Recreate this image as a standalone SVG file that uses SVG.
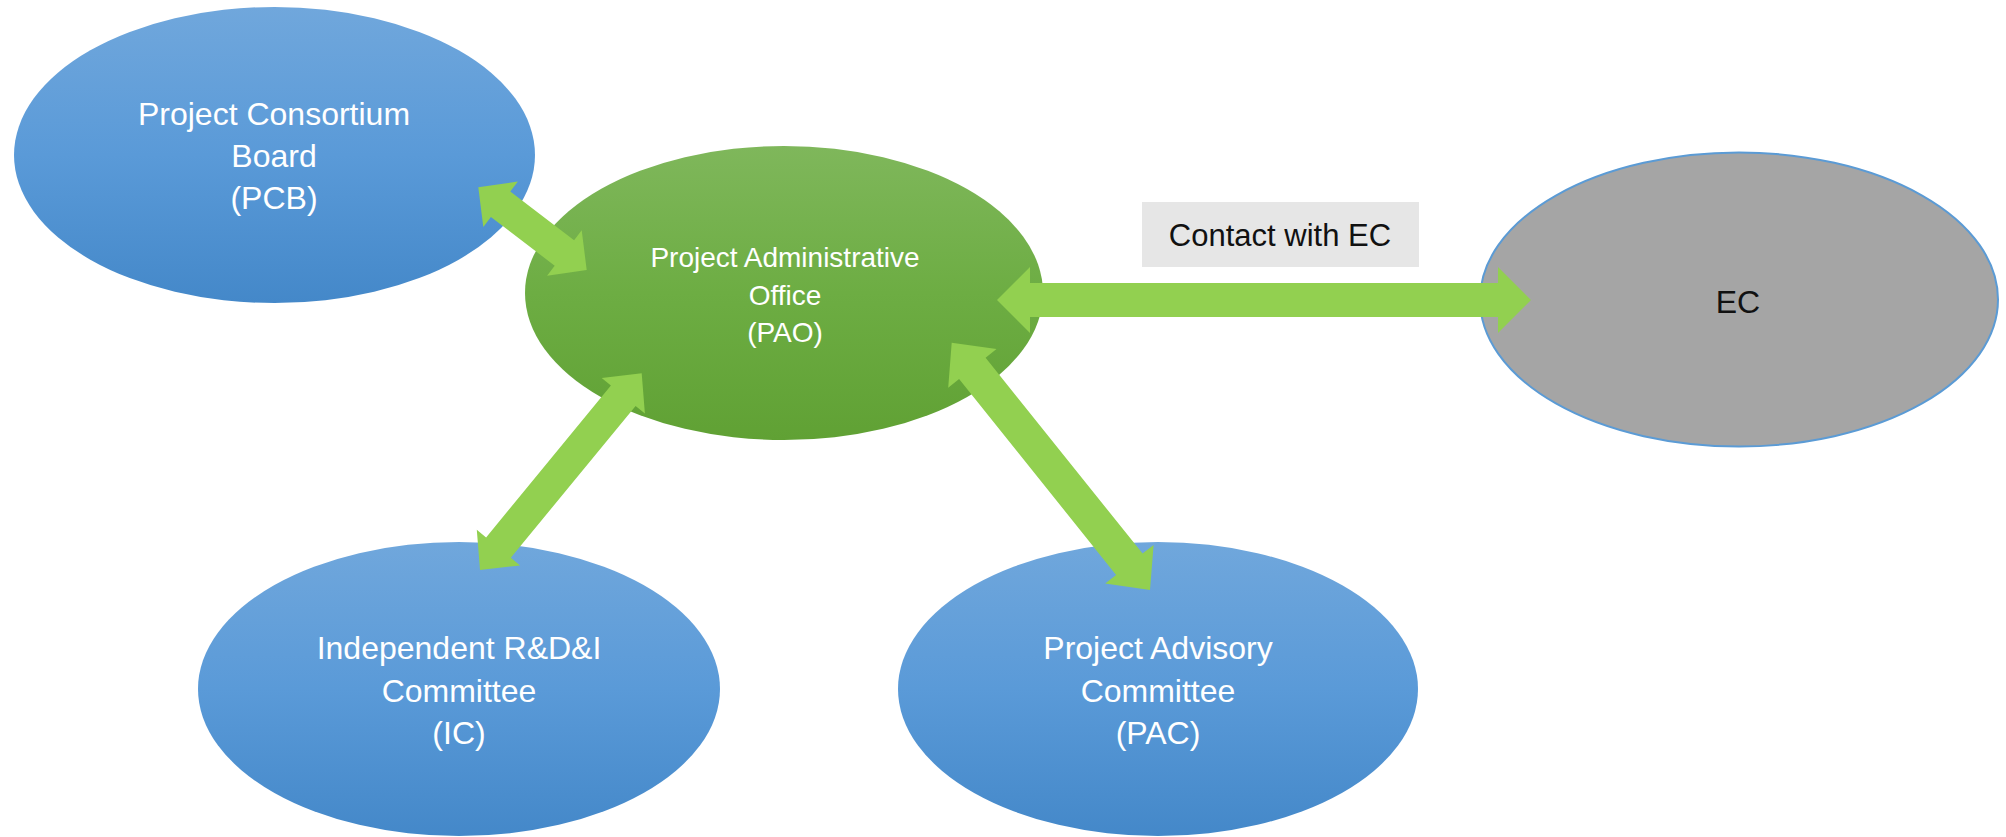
<svg xmlns="http://www.w3.org/2000/svg" width="2006" height="837" viewBox="0 0 2006 837">
<defs>
<linearGradient id="gBlue" x1="0" y1="0" x2="0" y2="1">
<stop offset="0" stop-color="#70a7dc"/>
<stop offset="0.5" stop-color="#5a9ad8"/>
<stop offset="1" stop-color="#4488c9"/>
</linearGradient>
<linearGradient id="gGreen" x1="0" y1="0" x2="0" y2="1">
<stop offset="0" stop-color="#7fb75b"/>
<stop offset="0.5" stop-color="#6dad43"/>
<stop offset="1" stop-color="#60a134"/>
</linearGradient>
</defs>
<style>
.blue{fill:url(#gBlue);}
.green{fill:url(#gGreen);}
.gray{fill:#a5a5a5;stroke:#5b9bd5;stroke-width:2;}
.wt{font-family:"Liberation Sans",Arial,sans-serif;fill:#ffffff;text-anchor:middle;}
.bt{font-family:"Liberation Sans",Arial,sans-serif;fill:#111111;text-anchor:middle;}
.arrow{fill:#92d050;}
</style>
<rect width="2006" height="837" fill="#ffffff"/>
<g id="node-pcb">
<ellipse class="blue" cx="274.5" cy="155" rx="260.5" ry="148"/>
<text class="wt" font-size="32" x="274" y="125">Project Consortium</text>
<text class="wt" font-size="32" x="274" y="167">Board</text>
<text class="wt" font-size="32" x="274" y="209">(PCB)</text>
</g>
<g id="node-pao">
<ellipse class="green" cx="784" cy="293" rx="259" ry="147"/>
<text class="wt" font-size="28" x="785" y="267">Project Administrative</text>
<text class="wt" font-size="28" x="785" y="305">Office</text>
<text class="wt" font-size="28" x="785" y="342">(PAO)</text>
</g>
<g id="node-ec">
<ellipse class="gray" cx="1739" cy="299.5" rx="259" ry="147"/>
<text class="bt" font-size="32" x="1738" y="313">EC</text>
</g>
<g id="node-ic">
<ellipse class="blue" cx="459" cy="689" rx="261" ry="147"/>
<text class="wt" font-size="32" x="459" y="659">Independent R&amp;D&amp;I</text>
<text class="wt" font-size="32" x="459" y="702">Committee</text>
<text class="wt" font-size="32" x="459" y="744">(IC)</text>
</g>
<g id="node-pac">
<ellipse class="blue" cx="1158" cy="689" rx="260" ry="147"/>
<text class="wt" font-size="32" x="1158" y="659">Project Advisory</text>
<text class="wt" font-size="32" x="1158" y="702">Committee</text>
<text class="wt" font-size="32" x="1158" y="744">(PAC)</text>
</g>
<g id="connectors">
<polygon class="arrow" points="478.3,187.3 483.3,227.0 490.9,217.0 554.7,265.7 547.1,275.7 586.7,270 581.7,230.3 574.1,240.3 510.3,191.6 517.9,181.6"/>
<polygon class="arrow" points="480,570 520.1,565.4 510.8,557.8 635.6,405.9 644.9,413.5 641.7,373.3 601.7,377.9 610.9,385.5 486.1,537.4 476.8,529.8"/>
<polygon class="arrow" points="951.7,342.7 948.2,387.8 959.1,379.1 1116.1,574.9 1105.2,583.6 1150,590 1153.6,544.9 1142.6,553.6 985.6,357.8 996.5,349.1"/>
<polygon class="arrow" points="997,300 1030,267 1030,283 1498,283 1498,267 1531,300 1498,333 1498,317 1030,317 1030,333"/>
<g id="label-contact">
<rect x="1142" y="202" width="277" height="65" fill="#e6e6e6"/>
<text class="bt" font-size="31" x="1280" y="246">Contact with EC</text>
</g>
</g>
</svg>
